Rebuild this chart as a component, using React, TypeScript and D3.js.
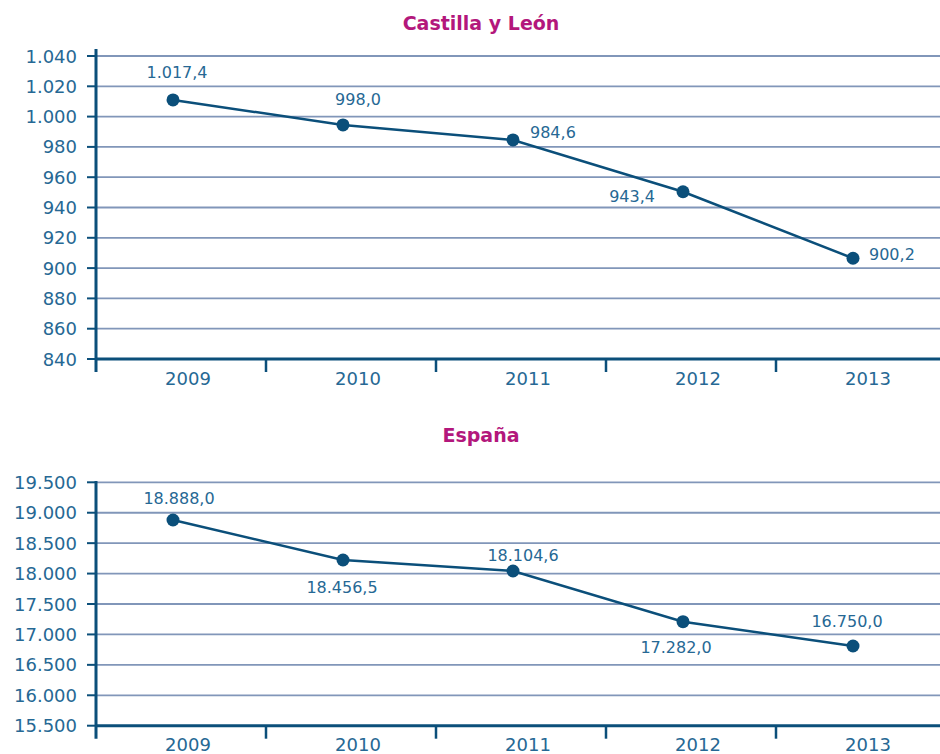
import React from "react";
import * as d3 from "d3";

const years = ["2009", "2010", "2011", "2012", "2013"];

// Castilla y León
const clTitle = "Castilla y León";
const clPlotted = [1011.0, 994.5, 984.6, 950.4, 906.5];
const clLabels = [1017.4, 998.0, 984.6, 943.4, 900.2];
const clTicks = [840, 860, 880, 900, 920, 940, 960, 980, 1000, 1020, 1040];

// España
const esTitle = "España";
const esPlotted = [18880, 18223, 18042, 17209, 16810];
const esLabels = [18888.0, 18456.5, 18104.6, 17282.0, 16750.0];
const esTicks = [15500, 16000, 16500, 17000, 17500, 18000, 18500, 19000, 19500];

const locale = d3.formatLocale({
  decimal: ",",
  thousands: ".",
  grouping: [3],
  currency: ["", " €"],
});
const fmtTick = locale.format(",.0f");
const fmtVal = locale.format(",.1f");

const FONT = "'DejaVu Sans', 'Open Sans', sans-serif";
const TEXT = "#266894";
const DARK = "#0b4f7a";
const GRID = "#8196b9";
const TITLE = "#b3177c";

type Place = { anchor: "start" | "middle" | "end"; dx: number; dy: number };

const clPlace: Place[] = [
  { anchor: "middle", dx: 4, dy: -27 },
  { anchor: "middle", dx: 15, dy: -25 },
  { anchor: "start", dx: 17, dy: -7 },
  { anchor: "end", dx: -28, dy: 5 },
  { anchor: "start", dx: 16, dy: -4 },
];
const esPlace: Place[] = [
  { anchor: "middle", dx: 6, dy: -22 },
  { anchor: "middle", dx: -1, dy: 27 },
  { anchor: "middle", dx: 10, dy: -16 },
  { anchor: "middle", dx: -7, dy: 26 },
  { anchor: "middle", dx: -6, dy: -24 },
];

const LEFT = 96;
const RIGHT = 940;

function Panel(props: {
  title: string;
  titleY: number;
  values: number[];
  labels: number[];
  ticks: number[];
  place: Place[];
  yTop: number;
  yBottom: number;
  axisTop: number;
}) {
  const { title, titleY, values, labels, ticks, place, yTop, yBottom, axisTop } = props;
  const y = d3
    .scaleLinear()
    .domain([d3.min(ticks) as number, d3.max(ticks) as number])
    .range([yBottom, yTop]);
  const x = d3.scaleBand().domain(years).range([LEFT, 946]).padding(0);
  const bw = x.bandwidth();
  const px = (c: string) => (x(c) as number) + bw / 2 - 8;
  const line = d3
    .line<number>()
    .x((_, i) => px(years[i]))
    .y((d) => y(d));
  const tickXs = years.map((c) => x(c) as number);

  return (
    <g>
      <text
        x={481}
        y={titleY}
        textAnchor="middle"
        dominantBaseline="central"
        fontFamily={FONT}
        fontWeight="bold"
        fontSize={19}
        fill={TITLE}
      >
        {title}
      </text>
      {ticks.map((t) => (
        <g key={t}>
          {t !== ticks[0] && (
            <line x1={LEFT} x2={RIGHT} y1={y(t)} y2={y(t)} stroke={GRID} strokeWidth={1.8} />
          )}
          <line x1={87} x2={LEFT} y1={y(t)} y2={y(t)} stroke={DARK} strokeWidth={2} />
          <text
            x={77}
            y={y(t)}
            textAnchor="end"
            dominantBaseline="central"
            fontFamily={FONT}
            fontSize={18}
            fill={TEXT}
          >
            {fmtTick(t)}
          </text>
        </g>
      ))}
      {/* y axis */}
      <line x1={LEFT} x2={LEFT} y1={axisTop} y2={yBottom + 13} stroke={DARK} strokeWidth={3} />
      {/* x axis */}
      <line x1={LEFT} x2={RIGHT} y1={yBottom} y2={yBottom} stroke={DARK} strokeWidth={3} />
      {tickXs.slice(1).map((tx) => (
        <line key={tx} x1={tx} x2={tx} y1={yBottom} y2={yBottom + 13} stroke={DARK} strokeWidth={2.5} />
      ))}
      {years.map((c) => (
        <text
          key={c}
          x={(x(c) as number) + bw / 2 + 7}
          y={yBottom + 19}
          textAnchor="middle"
          dominantBaseline="central"
          fontFamily={FONT}
          fontSize={18}
          fill={TEXT}
        >
          {c}
        </text>
      ))}
      <path d={line(values) || ""} fill="none" stroke={DARK} strokeWidth={2.5} />
      {values.map((v, i) => (
        <circle key={i} cx={px(years[i])} cy={y(v)} r={6.5} fill={DARK} />
      ))}
      {values.map((v, i) => (
        <text
          key={"l" + i}
          x={px(years[i]) + place[i].dx}
          y={y(v) + place[i].dy}
          textAnchor={place[i].anchor}
          dominantBaseline="central"
          fontFamily={FONT}
          fontSize={16}
          fill={TEXT}
        >
          {fmtVal(labels[i])}
        </text>
      ))}
    </g>
  );
}

export default function App() {
  return (
    <div style={{ position: "absolute", left: 0, top: 0, width: 940, height: 754, background: "#fff" }}>
      <svg width={940} height={754} style={{ display: "block" }}>
        <rect width={940} height={754} fill="#ffffff" />
        <Panel
          title={clTitle}
          titleY={23}
          values={clPlotted}
          labels={clLabels}
          ticks={clTicks}
          place={clPlace}
          yTop={56}
          yBottom={359}
          axisTop={49}
        />
        <Panel
          title={esTitle}
          titleY={435}
          values={esPlotted}
          labels={esLabels}
          ticks={esTicks}
          place={esPlace}
          yTop={482.3}
          yBottom={725.7}
          axisTop={481}
        />
      </svg>
    </div>
  );
}
